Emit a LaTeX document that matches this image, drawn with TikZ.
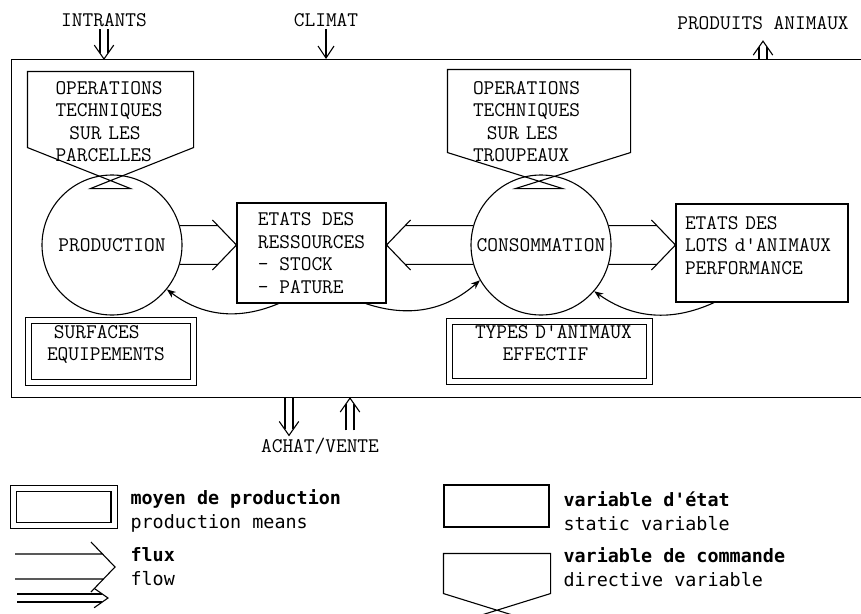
\documentclass[tikz,border=0pt]{standalone}
\usepackage{fontspec}
\newfontfamily\legendfont{DejaVu Sans Mono}
\usetikzlibrary{calc,arrows.meta}

\tikzset{
  typed/.style={font=\fontsize{20.8}{22.5}\selectfont\ttfamily, inner sep=0pt},
  statebox/.style={typed, draw, rectangle},
  means/.style={typed, draw, double, double distance=5pt},
  process/.style={typed, draw, circle, minimum size=140pt},
  command/.style={typed, rectangle},
  flowlabel/.style={typed, inner sep=2pt},
  feedback/.style={-{Stealth[length=9pt,width=7pt]}},
  legtext/.style={font=\fontsize{18.4}{24}\selectfont\legendfont, align=left, anchor=west, inner sep=0pt},
}

% double arrow: start, tip
\newcommand{\dblarrow}[2]{%
  \draw[shorten >=6pt] ($(#1)!4pt!90:(#2)$) -- ($(#2)!4pt!-90:(#1)$);
  \draw[shorten >=6pt] ($(#1)!4pt!-90:(#2)$) -- ($(#2)!4pt!90:(#1)$);
  \draw ($(#2)!17pt!35:(#1)$) -- (#2) -- ($(#2)!17pt!-35:(#1)$);}
% flux: upper start, lower start, tip, 1 = to the right / -1 = to the left
\newcommand{\flux}[4]{%
  \draw let \p1=(#1), \p2=(#2), \p3=(#3) in
    (#1) -- ({\x3-0.96*#4*abs(\y1-\y3)},\y1)
    (#2) -- ({\x3-0.96*#4*abs(\y2-\y3)},\y2)
    ($(#3)+(-24*#4,-25)$) -- (#3) -- ($(#3)+(-24*#4,25)$);}
% directive variable: node, half base, drop
\newcommand{\cmdframe}[3]{%
  \draw (#1.south west) -- (#1.north west) -- (#1.north east) -- (#1.south east)
    -- ($(#1.south)+(-#2,#3)$) -- ($(#1.south)+(#2,#3)$) -- cycle;}

\begin{document}
\begin{tikzpicture}[x=1pt, y=-1pt, line width=1.1pt]
    \useasboundingbox (0,0) rectangle (861,613);

    \node[draw, inner sep=0pt, minimum width=880pt, minimum height=338pt, anchor=north west] (farm) at (11,59) {};

    \node[flowlabel] (intrants) at (104,20) {INTRANTS};
    \node[flowlabel] (climat) at (326,20) {CLIMAT};
    \node[flowlabel] (produits) at (763,23) {PRODUITS ANIMAUX};
    \node[flowlabel] (achatvente) at (320,446) {ACHAT/VENTE};

    \node[command, minimum width=165pt, minimum height=75pt, text width=110pt, align=left, text height=20pt, text depth=50.2pt] (opparc) at (110.5,109.5) {OPERATIONS\\TECHNIQUES\\~~SUR LES\\PARCELLES};
    \node[command, minimum width=182pt, minimum height=82pt, text width=132pt, align=left, text height=20pt, text depth=53.2pt] (optrp) at (539,111) {OPERATIONS\\TECHNIQUES\\~~SUR LES\\TROUPEAUX};
    \cmdframe{opparc}{20}{41}
    \cmdframe{optrp}{23.5}{36}

    \node[process] (prod) at (112,245) {PRODUCTION};
    \node[process] (cons) at (541,245) {CONSOMMATION};
    \node[statebox, minimum width=149pt, minimum height=100pt, align=left] (res) at (311.5,253) {ETATS DES\\RESSOURCES\\- STOCK\\- PATURE};
    \node[statebox, minimum width=172pt, minimum height=98pt, text width=154pt, align=left, text height=15pt, text depth=62.2pt] (lots) at (762,253) {ETATS DES\\LOTS~d'ANIMAUX\\PERFORMANCE};
    \node[means, minimum width=165pt, minimum height=62pt, text width=128pt, align=left, text height=10pt, text depth=36.2pt] (surf) at (111,351.5) {~SURFACES\\EQUIPEMENTS};
    \node[means, minimum width=200pt, minimum height=60pt, text width=149pt, align=left, text height=10pt, text depth=36.2pt] (types) at (549.5,351.5) {TYPES~D'ANIMAUX\\~~~~EFFECTIF};

    \coordinate (intrantsin) at (intrants.south |- farm.north);
    \coordinate (produitsout) at ($(produits.south)+(0,9)$);
    \coordinate (produitsfarm) at (produits.south |- farm.north);
    \coordinate (achat) at ($(achatvente.north)+(-31,0)$);
    \coordinate (vente) at ($(achatvente.north)+(30,-5)$);
    \coordinate (achatfarm) at (achat |- farm.south);
    \coordinate (ventefarm) at (vente |- farm.south);
    \dblarrow{intrants.south}{intrantsin}
    \draw[-{Straight Barb[length=12pt,width=16pt]}] (climat.south) -- (climat.south |- farm.north);
    \dblarrow{produitsfarm}{produitsout}
    \dblarrow{achatfarm}{achat}
    \dblarrow{vente}{ventefarm}

    \coordinate (tipres) at (prod.east -| res.west);
    \coordinate (tipback) at (cons.west -| res.east);
    \coordinate (tiplots) at (cons.east -| lots.west);
    \flux{prod.16}{prod.-16}{tipres}{1}
    \flux{cons.164}{cons.196}{tipback}{-1}
    \flux{cons.16}{cons.-16}{tiplots}{1}

    \draw[feedback] (res.237) to[bend left=30] (prod.-39);
    \draw[feedback] (res.-43) to[bend right=30] (cons.210);
    \draw[feedback] (lots.226) to[bend left=30] (cons.-41);

    % legend
    \node[means, minimum width=100.5pt, minimum height=36.5pt] (legmeans) at (63.75,507) {};
    \node[legtext] (legmeanstxt) at (130,511) {\textbf{moyen de production}\\production means};
    \coordinate (legfluxa) at (15,554);
    \coordinate (legfluxb) at (15,579);
    \coordinate (legfluxtip) at (115,567);
    \flux{legfluxa}{legfluxb}{legfluxtip}{1}
    \node[legtext] (legfluxtxt) at (130,567) {\textbf{flux}\\flow};
    \coordinate (legdbla) at (17,598);
    \coordinate (legdblb) at (108,598);
    \dblarrow{legdbla}{legdblb}
    \node[statebox, minimum width=105pt, minimum height=42pt] (legstate) at (496.5,506) {};
    \node[legtext] (legstatetxt) at (563,511) {\textbf{variable d'état}\\static variable};
    \node[command, minimum width=106pt, minimum height=39pt] (legcmd) at (497,573.5) {};
    \cmdframe{legcmd}{14}{21}
    \node[legtext] (legcmdtxt) at (563,567) {\textbf{variable de commande}\\directive variable};
\end{tikzpicture}
\end{document}
